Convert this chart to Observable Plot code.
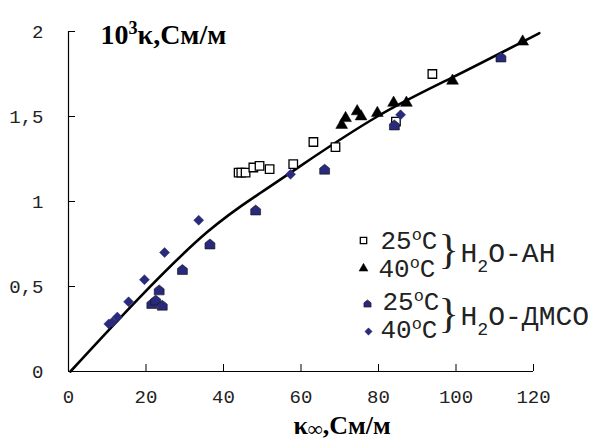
<!DOCTYPE html>
<html><head><meta charset="utf-8">
<script src="https://cdn.jsdelivr.net/npm/d3@7"></script>
<script src="https://cdn.jsdelivr.net/npm/@observablehq/plot@0.6"></script>
<style>body{margin:0;background:#fff}#chart{width:600px;height:443px}</style>
</head><body><div id="chart"></div>
<script>
// H2O-AN, 25°C (open squares)
const an25X = [43.9, 44.6, 45.7, 47.7, 49.3, 51.9, 58.0, 63.2, 68.9, 84.5, 93.9];
const an25Y = [1.17, 1.17, 1.17, 1.20, 1.21, 1.19, 1.22, 1.35, 1.32, 1.47, 1.75];
// H2O-AN, 40°C (black triangles)
const an40X = [70.5, 71.5, 74.5, 75.5, 79.7, 83.9, 87.2, 99.1, 117.2];
const an40Y = [1.45, 1.49, 1.53, 1.50, 1.52, 1.58, 1.58, 1.71, 1.94];
// H2O-DMSO, 25°C (blue pentagons)
const dm25X = [21.5, 22.5, 24.2, 23.4, 29.4, 36.5, 48.3, 66.1, 84.1, 111.6];
const dm25Y = [0.40, 0.42, 0.39, 0.48, 0.60, 0.75, 0.95, 1.19, 1.45, 1.85];
// H2O-DMSO, 40°C (blue diamonds)
const dm40X = [10.4, 11.3, 12.6, 15.5, 19.6, 24.8, 33.6, 57.3, 85.7];
const dm40Y = [0.28, 0.29, 0.32, 0.41, 0.54, 0.70, 0.89, 1.16, 1.51];
// fitted curve (read points)
const fitX = [0.5, 17.7, 35.8, 49.5, 59.9, 79.7, 99.1, 121.5];
const fitY = [0.0, 0.42, 0.82, 1.05, 1.21, 1.50, 1.73, 1.99];
// axes
const xTicks = [0, 20, 40, 60, 80, 100, 120];
const yTicks = [0, 0.5, 1, 1.5, 2];
const yTickLabels = ["0", "0,5", "1", "1,5", "2"];
// texts
const titleText = "10{^3}κ,См/м";
const xLabelText = "κ{_∞},См/м";
const legendTemps = ["25{^o}C", "40{^o}C", "25{^o}C", "40{^o}C"];
const legendSolvents = ["H{_2}O-AH", "H{_2}O-ДМСО"];

const BLUE = "#2a2a7c";
const zip = (xs, ys) => xs.map((x, i) => ({x, y: ys[i]}));

const diamondSym = {draw(ctx, size) {const h = Math.sqrt(size / 2); ctx.moveTo(0, -h); ctx.lineTo(h, 0); ctx.lineTo(0, h); ctx.lineTo(-h, 0); ctx.closePath();}};
const houseSym = {draw(ctx, size) {const h = Math.sqrt(size / 3.2); ctx.moveTo(0, -h); ctx.lineTo(h, -0.2 * h); ctx.lineTo(h, h); ctx.lineTo(-h, h); ctx.lineTo(-h, -0.2 * h); ctx.closePath();}};

const styles = [
  {symbol: "square", r: 4.8, fill: "#fff", stroke: "#000", strokeWidth: 1.3, lr: 3.6},
  {symbol: "triangle", r: 4.4, fill: "#000", stroke: "#000", strokeWidth: 0.5, lr: 3.3},
  {symbol: houseSym, r: 5, fill: BLUE, stroke: "#111", strokeWidth: 0.6, lr: 3.6},
  {symbol: diamondSym, r: 4, fill: BLUE, stroke: BLUE, strokeWidth: 0.5, lr: 2.9}
];
const series = [zip(an25X, an25Y), zip(an40X, an40Y), zip(dm25X, dm25Y), zip(dm40X, dm40Y)];

const legendMarkerPos = [[295, 209], [295, 237], [299, 272], [300, 300]];
const legendTextPos = [[312, 209], [310, 237], [314, 270], [312, 298]];

const marks = [
  Plot.ruleX([0], {stroke: "#000", strokeWidth: 1.2}),
  Plot.ruleY([0], {stroke: "#000", strokeWidth: 1.2}),
  Plot.axisX({ticks: xTicks, tickSize: -7, tickPadding: 25, fontSize: 19, fontFamily: "Liberation Mono", fill: "#222", label: null, tickFormat: d => String(d)}),
  Plot.axisY({ticks: yTicks, tickSize: -7, tickPadding: 32, fontSize: 19, fontFamily: "Liberation Mono", fill: "#222", label: null, tickFormat: d => yTickLabels[yTicks.indexOf(d)]}),
  Plot.line(zip(fitX, fitY), {x: "x", y: "y", stroke: "#000", strokeWidth: 2.6, curve: "natural"}),
  ...series.map((s, i) => Plot.dot(s, {x: "x", y: "y", symbol: styles[i].symbol, r: styles[i].r, fill: styles[i].fill, stroke: styles[i].stroke, strokeWidth: styles[i].strokeWidth})),
  Plot.text([titleText], {frameAnchor: "top-left", dx: 32, dy: 4, textAnchor: "start", lineAnchor: "middle", fontSize: 28, fontWeight: "bold", fontFamily: "Liberation Serif"}),
  Plot.text([xLabelText], {frameAnchor: "bottom-left", dx: 225, dy: 54, textAnchor: "start", lineAnchor: "middle", fontSize: 26, fontWeight: "bold", fontFamily: "Liberation Serif"}),
  ...legendMarkerPos.map((p, i) => Plot.dot([i], {frameAnchor: "top-left", dx: p[0], dy: p[1], symbol: styles[i].symbol, r: styles[i].lr, fill: styles[i].fill, stroke: styles[i].stroke, strokeWidth: styles[i].strokeWidth})),
  ...legendTextPos.map((p, i) => Plot.text([legendTemps[i]], {frameAnchor: "top-left", dx: p[0], dy: p[1], textAnchor: "start", lineAnchor: "middle", fontSize: 26, fontFamily: "Liberation Mono", fill: "#222"})),
  ...[218, 282].map(dy => Plot.text(["}"], {frameAnchor: "top-left", dx: 370, dy, textAnchor: "start", lineAnchor: "middle", fontSize: 42, fontFamily: "Liberation Serif", fill: "#222"})),
  ...legendSolvents.map((s, i) => Plot.text([s], {frameAnchor: "top-left", dx: 392, dy: [222, 285][i], textAnchor: "start", lineAnchor: "middle", fontSize: 28, fontFamily: "Liberation Mono", fill: "#222"}))
];

const svg = Plot.plot({
  width: 600, height: 443,
  marginLeft: 68, marginRight: 67, marginTop: 31, marginBottom: 72,
  x: {domain: [0, 120]},
  y: {domain: [0, 2]},
  style: {background: "#fff", color: "#000", fontFamily: "Liberation Mono"},
  marks
});

function rich(root) {
  d3.select(root).selectAll("text").each(function () {
    const el = this;
    const s = el.textContent;
    if (!s.includes("{")) return;
    const parts = s.split(/(\{[\^_][^}]*\})/);
    while (el.firstChild) el.removeChild(el.firstChild);
    for (const p of parts) {
      if (!p) continue;
      const t = document.createElementNS("http://www.w3.org/2000/svg", "tspan");
      const m = p.match(/^\{([\^_])(.*)\}$/);
      if (m) {
        t.textContent = m[2];
        const inf = m[2] === "∞";
        t.style.fontSize = inf ? "0.8em" : "0.65em";
        t.setAttribute("baseline-shift", m[1] === "^" ? "super" : (inf ? "-0.12em" : "sub"));
      } else t.textContent = p;
      el.appendChild(t);
    }
  });
}
rich(svg);
document.getElementById("chart").appendChild(svg);
</script></body></html>
